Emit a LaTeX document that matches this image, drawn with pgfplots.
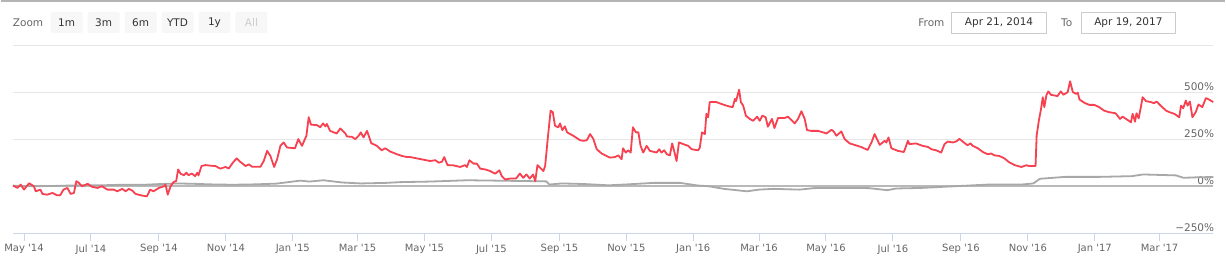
\documentclass[border=0pt]{standalone}
\usepackage{pgfplots}
\pgfplotsset{compat=1.18}
\usepackage{fontspec}
\newfontfamily\hc{DejaVu Sans}
\definecolor{redline}{RGB}{247,65,80}
\definecolor{grayline}{RGB}{168,168,168}
\definecolor{zeroline}{RGB}{185,185,185}
\definecolor{gridc}{RGB}{230,230,230}
\definecolor{axisc}{RGB}{204,214,235}
\definecolor{labc}{RGB}{102,102,102}
\definecolor{btn}{RGB}{247,247,247}
\definecolor{btntext}{RGB}{51,51,51}
\definecolor{btndis}{RGB}{204,204,204}
\definecolor{boxc}{RGB}{204,204,204}
\definecolor{topc}{RGB}{180,180,180}
\begin{document}
\begin{tikzpicture}[x=1pt,y=1pt]
\path[fill=white] (0,0) rectangle (1226,262);
\draw[topc, line width=1.5pt] (0,261) -- (1226,261);
% range selector
\node[anchor=west, text=labc, font=\hc\fontsize{10.5}{12}\selectfont, inner sep=0pt] at (12,239) {Zoom};
\foreach \xa/\xb/\t/\c in {50/82/1m/btntext, 87/119/3m/btntext, 124/156/6m/btntext, 161/193/YTD/btntext, 198/230/1y/btntext, 235/267/All/btndis}{
  \fill[btn, rounded corners=2pt] (\xa,229) rectangle (\xb,250);
  \node[text=\c, font=\hc\fontsize{10.5}{12}\selectfont, inner sep=0pt] at ({(\xa+\xb)/2},239.5) {\t};
}
\node[anchor=east, text=labc, font=\hc\fontsize{10.5}{12}\selectfont, inner sep=0pt] at (945,239.5) {From};
\draw[boxc, fill=white] (952,229) rectangle (1047,250);
\node[text=btntext, font=\hc\fontsize{10.5}{12}\selectfont, inner sep=0pt] at (999.5,239.5) {Apr 21, 2014};
\node[anchor=east, text=labc, font=\hc\fontsize{10.5}{12}\selectfont, inner sep=0pt] at (1073,239.5) {To};
\draw[boxc, fill=white] (1082,229) rectangle (1176,250);
\node[text=btntext, font=\hc\fontsize{10.5}{12}\selectfont, inner sep=0pt] at (1129,239.5) {Apr 19, 2017};
\begin{axis}[
  at={(12.3pt,28.7pt)}, anchor=south west,
  scale only axis, width=1201.7pt, height=187.3pt,
  xmin=0, xmax=1094, ymin=-250, ymax=750,
  axis x line*=bottom, axis y line*=right,
  x axis line style={draw=axisc, line width=1pt, -},
  y axis line style={draw=none},
  tick align=outside, major tick length=8pt,
  xtick={10,71,133,194,255,314,375,436,498,559,620,680,741,802,864,925,986,1045},
  xticklabels={May '14,Jul '14,Sep '14,Nov '14,Jan '15,Mar '15,May '15,Jul '15,Sep '15,Nov '15,Jan '16,Mar '16,May '16,Jul '16,Sep '16,Nov '16,Jan '17,Mar '17},
  xtick style={draw=axisc, line width=1pt},
  xticklabel style={font=\hc\fontsize{10}{12}\selectfont, text=labc},
  ytick={-250,0,250,500,750},
  yticklabels={−250\%,0\%,250\%,500\%,{}},
  ytick style={draw=none},
  yticklabel style={font=\hc\fontsize{10.5}{12}\selectfont, text=labc, anchor=base east, inner sep=0pt, xshift=-7pt, yshift=2pt},
  ymajorgrids, major grid style={draw=gridc, line width=1pt},
  clip=false,
]
\addplot[draw=zeroline, line width=1.6pt] coordinates {(0,0) (1094,0)};
\addplot[draw=grayline, line width=1.8pt, line join=round] coordinates {
(0,3) (20,0) (40,2) (60,5) (80,5) (100,8) (120,8) (135,12) (150,15) (165,13) (180,10) (200,8) (220,10) (240,14) (255,25) (262,30) (270,25) (283,32) (300,20) (317,15) (340,18) (353,22) (380,25) (414,32) (440,30) (476,27) (486,26) (489,9) (500,15) (520,12) (543,5) (560,10) (584,18) (608,18) (624,4) (634,0) (648,-14) (669,-27) (680,-18) (693,-14) (717,-18) (730,-10) (753,-9) (780,-10) (797,-21) (805,-12) (828,-9) (858,0) (889,9) (919,9) (930,15) (936,40) (959,50) (990,50) (1020,54) (1030,63) (1060,58) (1067,45) (1080,48) (1094,49)
};
\addplot[draw=redline, line width=1.8pt, line join=round] coordinates {
(0,4) (4,-9) (7,9) (10,-18) (14.6,16) (19,0) (20.7,-27) (25,-18) (26.8,-41) (31,-45) (36,-36) (40,-48) (43,-48) (46,-18) (49.5,-9) (52.5,-41) (55.5,-36) (57.7,27) (60,18) (63,0) (68,13) (72,-3) (77,-9) (81,0) (86,-18) (92,-18) (95,-27) (99.6,-14) (102.6,-27) (105.6,-14) (108.7,-23) (111.7,-41) (117.8,-50) (122,-54) (125,-18) (128,-27) (133,-9) (137.5,0) (139,9) (141,-45) (143.6,0) (146.6,24) (148.7,27) (150.5,90) (152.7,67) (155.7,59) (158,72) (160,59) (163,68) (166,54) (168,72) (169,58) (171.8,108) (175.4,113) (180,110) (184.5,108) (189,94) (193.6,103) (196.6,95) (201,131) (204,149) (207,131) (212,108) (215,117) (218,104) (225.5,104) (228.5,135) (231.6,189) (234.6,162) (238,103) (240.7,144) (243.7,216) (246.7,234) (249.8,207) (257,203) (260,252) (263.4,216) (267.4,270) (269.5,369) (271.6,329) (277,327) (280,315) (282.6,336) (284.7,320) (286,333) (289,296) (295,282) (298.3,309) (303,282) (304.4,266) (309,264) (312,252) (315,270) (317,288) (319.5,261) (322.6,296) (325,257) (326.5,230) (331.7,216) (336,192) (339.3,203) (344,185) (350,171) (354.5,162) (359,156) (362,156) (368,149) (374,142) (380,135) (385,139) (388,126) (391,131) (393,156) (396,113) (401,112) (407.6,103) (412,113) (413.7,103) (416,139) (419.7,121) (422.8,121) (425.8,94) (430.3,90) (435,81) (439.4,67) (443.3,85) (445.5,54) (448.5,36) (453,41) (458.5,41) (462,68) (465,45) (468,63) (471,41) (474,63) (476,27) (478,113) (480.4,99) (483.4,81) (485,108) (487.5,261) (490,404) (492,396) (494,323) (497,315) (498.6,336) (500.7,300) (503,320) (505,288) (510.7,270) (516.8,246) (519.8,243) (523,246) (526,279) (529,252) (532,198) (536.5,175) (541,162) (544,153) (548.6,156) (551.7,165) (554.7,144) (556,203) (558.5,180) (560.8,192) (563,180) (565,315) (567.8,288) (570,288) (572,216) (574.4,180) (577.5,216) (580.5,189) (586.6,180) (589,198) (591,180) (593.5,192) (596,171) (598.7,165) (600.8,229) (602.6,189) (604.8,135) (607,234) (611,225) (615.4,216) (618.5,198) (624.5,192) (626,207) (628,288) (630.6,279) (632,387) (633.6,369) (635,450) (641,450) (647,437) (653,426) (656,423) (658,467) (659,455) (661.8,516) (663.4,450) (665.5,431) (668,377) (671.5,360) (674.6,350) (678.2,372) (680.6,350) (683,377) (686,369) (688,318) (691.8,360) (694,311) (697.3,365) (703.4,365) (706.4,372) (712.5,336) (715.5,360) (718.6,401) (721.6,360) (723.7,300) (727.7,296) (733.7,296) (738.3,288) (741.4,282) (746,302) (748,293) (750.5,270) (755,293) (758,252) (762.6,229) (767,221) (773,210) (779,194) (782.5,234) (785.3,279) (790,221) (794.5,243) (796,234) (798,261) (800.6,203) (806.6,189) (812,183) (813.5,207) (815.7,243) (817,225) (823,229) (829,216) (834,210) (837,198) (841.5,192) (846,180) (849,225) (852,239) (856.6,234) (859.6,239) (862.6,253) (865.6,239) (870,219) (872.7,229) (874.8,216) (879.4,203) (884,183) (888.5,171) (891.5,175) (894.6,165) (899,162) (903.6,149) (908,128) (913,113) (919,103) (923.5,112) (926.5,108) (932,108) (933,270) (935,350) (937,413) (938.6,476) (940,423) (942,489) (943.7,507) (946,489) (952,482) (955,507) (957.4,489) (961.3,503) (963.5,561) (966,503) (969,494) (970.5,500) (972,464) (976.5,446) (981,435) (985.5,435) (990,423) (994.5,404) (999,396) (1005,390) (1009,360) (1011.4,372) (1014.5,360) (1019,342) (1020.5,387) (1022.7,345) (1024,390) (1026,363) (1028,423) (1029.6,476) (1032.7,455) (1037,450) (1040,444) (1042.3,453) (1046,431) (1051,404) (1054,396) (1058.5,387) (1063,369) (1064.6,431) (1066.6,417) (1069,458) (1070.6,431) (1072.7,453) (1075,369) (1078,396) (1080.5,437) (1084,423) (1087.3,471) (1090,464) (1094,450)
};
\end{axis}
\end{tikzpicture}
\end{document}
